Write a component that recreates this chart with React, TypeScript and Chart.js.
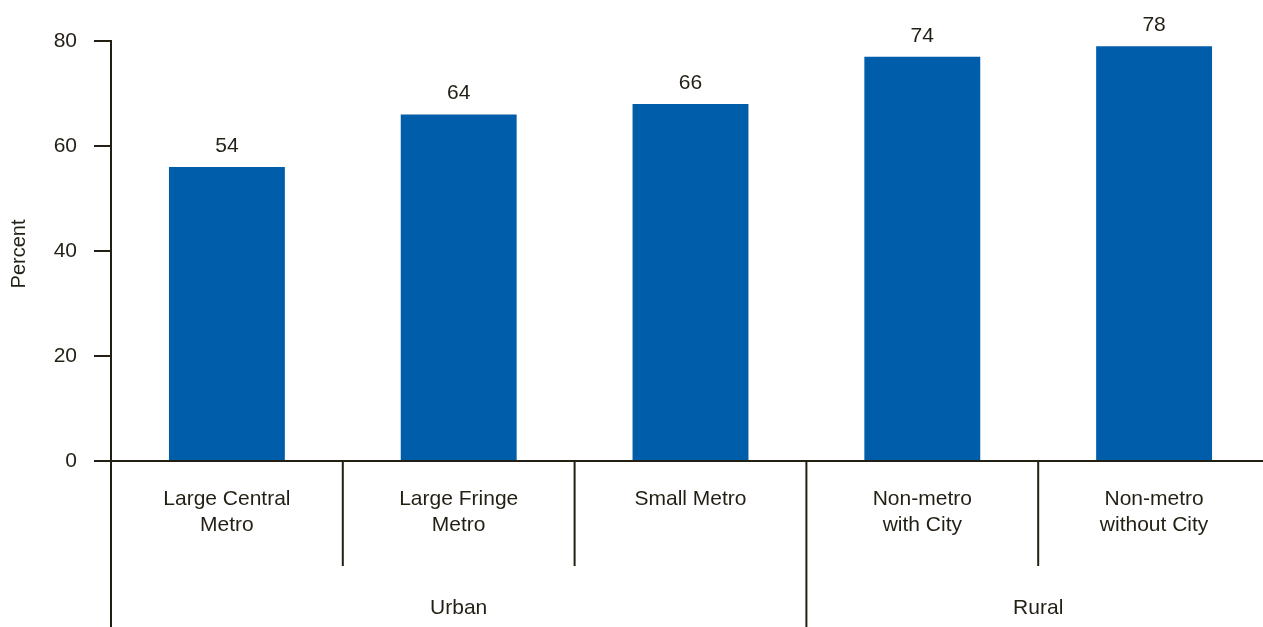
import React, { useEffect, useRef } from "react";
import { Chart, registerables } from "chart.js";

Chart.register(...registerables);

const categories: string[][] = [
  ["Large Central", "Metro"],
  ["Large Fringe", "Metro"],
  ["Small Metro"],
  ["Non-metro", "with City"],
  ["Non-metro", "without City"],
];
const barValues = [56, 66, 68, 77, 79];
const valueLabels = ["54", "64", "66", "74", "78"];
const groupNames = ["Urban", "Rural"];
const groupSizes = [3, 2];
const yTickValues = [0, 20, 40, 60, 80];
const yAxisTitle = "Percent";

const INK = "#231F14";
const BAR = "#005DAA";
const FONT = "'Liberation Sans', Arial, Helvetica, sans-serif";

export default function App() {
  const ref = useRef<HTMLCanvasElement | null>(null);

  useEffect(() => {
    const canvas = ref.current;
    if (!canvas) return;

    const overlay = {
      id: "overlay",
      afterDraw(chart: any) {
        const ctx = chart.ctx;
        const area = chart.chartArea;
        const xs = chart.scales.x;
        const H = chart.height;
        const W = chart.width;
        const n = categories.length;
        const px = (i: number) => xs.getPixelForValue(i);
        const half = (px(1) - px(0)) / 2;
        ctx.save();
        ctx.strokeStyle = INK;
        ctx.lineWidth = 2;
        ctx.beginPath();
        ctx.moveTo(area.left - 17, area.bottom);
        ctx.lineTo(W, area.bottom);
        ctx.moveTo(area.left, area.bottom);
        ctx.lineTo(area.left, H);
        ctx.stroke();
        const boundaries: number[] = [];
        let acc = 0;
        groupSizes.forEach((s) => {
          acc += s;
          boundaries.push(acc);
        });
        for (let i = 1; i < n; i++) {
          const x = (px(i - 1) + px(i)) / 2;
          const isGroup = boundaries.includes(i);
          ctx.beginPath();
          ctx.moveTo(x, area.bottom);
          ctx.lineTo(x, isGroup ? H : 566);
          ctx.stroke();
        }
        ctx.fillStyle = INK;
        ctx.font = `21px ${FONT}`;
        ctx.textAlign = "center";
        ctx.textBaseline = "middle";
        let start = 0;
        groupSizes.forEach((s, gi) => {
          const l = gi === 0 ? area.left : px(start) - half;
          const r = gi === groupSizes.length - 1 ? area.right : px(start + s - 1) + half;
          ctx.fillText(groupNames[gi], (l + r) / 2, 608);
          start += s;
        });
        const meta = chart.getDatasetMeta(0);
        meta.data.forEach((bar: any, i: number) => {
          ctx.fillText(valueLabels[i], bar.x, bar.y - 21);
        });
        ctx.save();
        ctx.translate(19, (area.top + area.bottom) / 2 + 3);
        ctx.rotate(-Math.PI / 2);
        ctx.font = `20px ${FONT}`;
        ctx.fillText(yAxisTitle, 0, 0);
        ctx.restore();
        ctx.restore();
      },
    };

    const chart = new Chart(canvas, {
      type: "bar",
      data: {
        labels: categories,
        datasets: [
          {
            data: barValues,
            backgroundColor: BAR,
            borderWidth: 0,
            barPercentage: 0.5,
            categoryPercentage: 1,
          },
        ],
      },
      options: {
        animation: false,
        responsive: false,
        devicePixelRatio: 1,
        layout: { padding: { left: 0, right: 2, top: 41, bottom: 0 } },
        plugins: { legend: { display: false }, tooltip: { enabled: false } },
        scales: {
          x: {
            grid: { display: false, drawTicks: false },
            border: { display: false },
            ticks: {
              color: INK,
              font: { family: FONT, size: 21, lineHeight: 1.25 },
              padding: 25,
              maxRotation: 0,
              autoSkip: false,
            },
            afterFit: (s: any) => {
              s.height = 166;
            },
          },
          y: {
            min: 0,
            max: 80,
            afterBuildTicks: (s: any) => {
              s.ticks = yTickValues.map((v) => ({ value: v }));
            },
            grid: {
              drawOnChartArea: false,
              drawTicks: true,
              tickLength: 17,
              color: INK,
              lineWidth: 2,
            },
            border: { display: true, color: INK, width: 2 },
            ticks: {
              color: INK,
              font: { family: FONT, size: 21 },
              padding: 17,
            },
            afterFit: (s: any) => {
              s.width = 111;
            },
          },
        },
      },
      plugins: [overlay],
    });
    return () => chart.destroy();
  }, []);

  return (
    <div
      style={{
        position: "fixed",
        left: 0,
        top: 0,
        width: 1263,
        height: 627,
        overflow: "hidden",
        background: "#fff",
      }}
    >
      <canvas ref={ref} width={1272} height={627} style={{ display: "block" }} />
    </div>
  );
}
